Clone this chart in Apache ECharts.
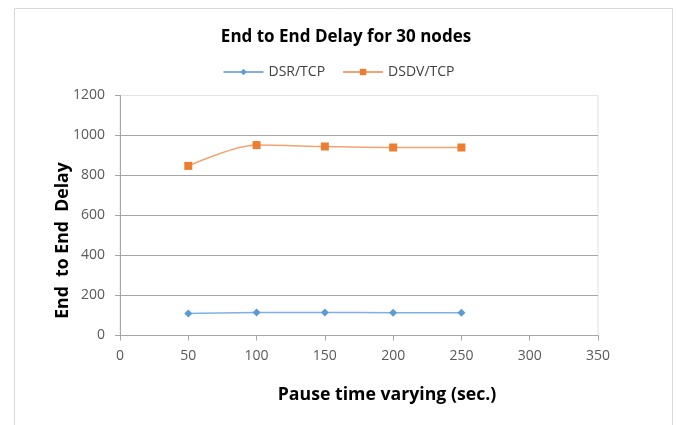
<!DOCTYPE html>
<html><head><meta charset="utf-8">
<script src="https://cdn.jsdelivr.net/npm/echarts@6/dist/echarts.min.js"></script>
<style>html,body{margin:0;padding:0;background:#fff}#c{width:677px;height:425px}</style>
</head><body><div id="c"></div>
<script>
const pauseTimes = [50, 100, 150, 200, 250];
const dsrTcp = [110, 115, 115, 114, 114];
const dsdvTcp = [848, 952, 945, 940, 940];
const xTicks = [0, 50, 100, 150, 200, 250, 300, 350];
const yTicks = [0, 200, 400, 600, 800, 1000, 1200];

const chart = echarts.init(document.getElementById('c'), null, {renderer: 'canvas'});
const font = '"Open Sans", sans-serif';
chart.setOption({
  animation: false,
  backgroundColor: '#fff',
  graphic: [{type: 'rect', shape: {x: 14.5, y: 8.5, width: 658, height: 430}, style: {fill: 'none', stroke: '#d9d9d9', lineWidth: 1}, silent: true}],
  title: {text: 'End to End Delay for 30 nodes', left: 341, top: 24, textAlign: 'center',
    textStyle: {fontFamily: font, fontSize: 17, fontWeight: 'bold', color: '#000'}},
  legend: {top: 60, left: 'center', itemWidth: 40, itemHeight: 8, itemGap: 17,
    textStyle: {fontFamily: font, fontSize: 14, color: '#404040'},
    data: ['DSR/TCP', 'DSDV/TCP']},
  grid: {left: 120, right: 79, top: 95.5, bottom: 89.5, show: true, borderColor: '#e0e0e0', borderWidth: 1},
  xAxis: {type: 'value', min: xTicks[0], max: xTicks[xTicks.length-1], interval: 50,
    name: 'Pause time varying (sec.)', nameLocation: 'middle', nameGap: 50,
    nameTextStyle: {fontFamily: font, fontSize: 17.7, fontWeight: 'bold', color: '#000', padding: [0, 0, 0, 56]},
    axisLine: {lineStyle: {color: '#a6a6a6'}},
    axisTick: {show: true, length: 5, lineStyle: {color: '#a6a6a6'}},
    axisLabel: {fontFamily: font, fontSize: 14, color: '#595959', margin: 14},
    splitLine: {show: false}},
  yAxis: {type: 'value', min: yTicks[0], max: yTicks[yTicks.length-1], interval: 200,
    name: 'End  to End  Delay', nameLocation: 'middle', nameGap: 48, nameMoveOverlap: false,
    nameTextStyle: {fontFamily: font, fontSize: 17.7, fontWeight: 'bold', color: '#000', padding: [0, 50, 0, 0]},
    axisLine: {show: true, lineStyle: {color: '#a6a6a6'}},
    axisTick: {show: true, length: 5, lineStyle: {color: '#a6a6a6'}},
    axisLabel: {fontFamily: font, fontSize: 14, color: '#595959', margin: 15, formatter: v => String(v)},
    splitLine: {lineStyle: {color: ['#a6a6a6', '#a6a6a6', '#a6a6a6', '#a6a6a6', '#a6a6a6', '#a6a6a6', '#e3e3e3']}}},
  series: [
    {name: 'DSR/TCP', type: 'line', data: pauseTimes.map((x, i) => [x, dsrTcp[i]]),
      symbol: 'diamond', symbolSize: 8, smooth: 0.3,
      itemStyle: {color: '#5b9bd5'}, lineStyle: {color: '#7fb1e0', width: 1.5}},
    {name: 'DSDV/TCP', type: 'line', data: pauseTimes.map((x, i) => [x, dsdvTcp[i]]),
      symbol: 'rect', symbolSize: 8, smooth: 0.3,
      itemStyle: {color: '#ed7d31'}, lineStyle: {color: '#f4a36e', width: 1.5}}
  ]
});
</script></body></html>
